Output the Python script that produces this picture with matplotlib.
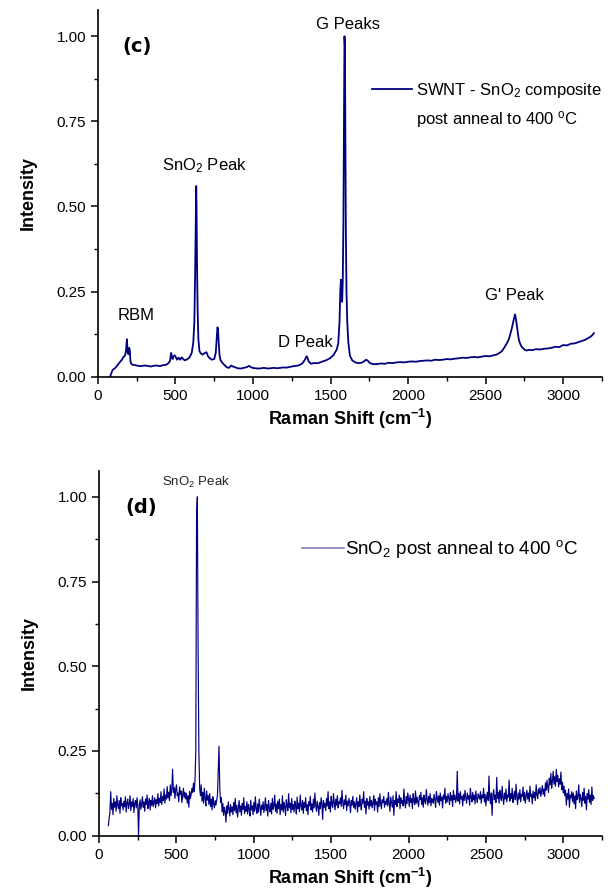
import numpy as np
import matplotlib
matplotlib.use("Agg")
import matplotlib.pyplot as plt
from matplotlib.ticker import MultipleLocator, FormatStrFormatter
from matplotlib.lines import Line2D

plt.rcParams['font.family'] = ['Liberation Sans', 'DejaVu Sans']
plt.rcParams['mathtext.default'] = 'regular'

# panel (c): SWNT - SnO2 composite, (Raman shift, intensity)
c_points = [
    (78, 0.0), (85, 0.008), (95, 0.02), (110, 0.025), (125, 0.033), (140, 0.042),
    (155, 0.05), (165, 0.058), (175, 0.062), (182, 0.08), (187, 0.11), (192, 0.07),
    (197, 0.066), (202, 0.085), (206, 0.078), (210, 0.045), (215, 0.038), (225, 0.035),
    (240, 0.034), (260, 0.032), (280, 0.031), (300, 0.033), (320, 0.032), (340, 0.030),
    (360, 0.032), (380, 0.033), (400, 0.031), (420, 0.034), (440, 0.035), (455, 0.040),
    (465, 0.046), (472, 0.070), (478, 0.058), (482, 0.052), (488, 0.060), (495, 0.063),
    (502, 0.058), (510, 0.050), (520, 0.056), (530, 0.050), (540, 0.057), (550, 0.052),
    (560, 0.048), (575, 0.051), (590, 0.056), (605, 0.070), (615, 0.10), (622, 0.16),
    (627, 0.30), (631, 0.45), (634, 0.56), (636, 0.50), (639, 0.34), (643, 0.20),
    (648, 0.11), (655, 0.075), (665, 0.068), (675, 0.065), (690, 0.070), (700, 0.072),
    (710, 0.060), (720, 0.055), (735, 0.050), (750, 0.052), (760, 0.070), (766, 0.11),
    (771, 0.145), (775, 0.138), (779, 0.10), (784, 0.065), (790, 0.050), (800, 0.042),
    (815, 0.035), (830, 0.028), (845, 0.026), (860, 0.033), (870, 0.030), (885, 0.028),
    (900, 0.025), (920, 0.024), (940, 0.026), (960, 0.028), (975, 0.032), (990, 0.027),
    (1010, 0.025), (1040, 0.024), (1070, 0.026), (1100, 0.024), (1130, 0.026), (1160, 0.025),
    (1190, 0.027), (1220, 0.027), (1250, 0.030), (1280, 0.032), (1300, 0.034), (1320, 0.040),
    (1335, 0.050), (1346, 0.060), (1352, 0.055), (1360, 0.044), (1375, 0.038), (1390, 0.040),
    (1420, 0.040), (1450, 0.045), (1475, 0.049), (1496, 0.054), (1520, 0.064), (1540, 0.080),
    (1550, 0.098), (1558, 0.16), (1563, 0.25), (1567, 0.285), (1571, 0.24), (1575, 0.22),
    (1579, 0.28), (1583, 0.45), (1587, 0.75), (1590, 1.00), (1593, 0.97), (1596, 0.66),
    (1599, 0.42), (1603, 0.25), (1608, 0.16), (1615, 0.10), (1625, 0.062), (1640, 0.048),
    (1660, 0.042), (1680, 0.040), (1700, 0.041), (1715, 0.045), (1730, 0.050), (1740, 0.047),
    (1755, 0.040), (1775, 0.037), (1800, 0.037), (1825, 0.039), (1850, 0.038), (1875, 0.041),
    (1900, 0.040), (1925, 0.042), (1950, 0.043), (1975, 0.042), (2000, 0.044), (2025, 0.045),
    (2050, 0.044), (2075, 0.046), (2100, 0.047), (2125, 0.048), (2150, 0.047), (2175, 0.050),
    (2200, 0.049), (2225, 0.050), (2250, 0.052), (2275, 0.051), (2300, 0.053), (2325, 0.054),
    (2350, 0.056), (2375, 0.055), (2400, 0.057), (2425, 0.058), (2450, 0.057), (2475, 0.059),
    (2500, 0.061), (2525, 0.060), (2550, 0.063), (2570, 0.065), (2590, 0.070), (2605, 0.075),
    (2620, 0.085), (2635, 0.097), (2645, 0.105), (2655, 0.118), (2665, 0.135), (2673, 0.150),
    (2680, 0.165), (2686, 0.176), (2689, 0.183), (2693, 0.176), (2697, 0.165), (2702, 0.148),
    (2707, 0.130), (2713, 0.112), (2720, 0.100), (2732, 0.088), (2750, 0.080), (2764, 0.077),
    (2780, 0.079), (2800, 0.078), (2825, 0.081), (2850, 0.080), (2875, 0.082), (2900, 0.083),
    (2925, 0.085), (2950, 0.088), (2975, 0.087), (3000, 0.093), (3025, 0.092), (3050, 0.097),
    (3075, 0.098), (3100, 0.102), (3120, 0.105), (3140, 0.108), (3160, 0.113), (3175, 0.117),
    (3188, 0.122), (3198, 0.128),
]
c_shift = [p[0] for p in c_points]
c_intensity = [p[1] for p in c_points]

# panel (d): SnO2 only, sampled every 5 cm-1 from 60 to 3200 (values x 1000)
d_start, d_step = 60, 5
d_intensity = [
    30, 52, 68, 130, 78, 96, 62, 110, 84, 100, 72, 118, 90, 80, 104, 66, 112, 88, 95, 76,
    102, 85, 115, 70, 96, 108, 80, 92, 118, 74, 100, 86, 110, 68, 95, 104, 82, 112, 90, 0,
    88, 106, 78, 95, 115, 84, 100, 72, 108, 92, 120, 80, 98, 110, 76, 104, 90, 118, 86, 100,
    112, 82, 106, 95, 124, 88, 110, 98, 130, 92, 115, 104, 138, 96, 120, 108, 145, 112, 128, 104,
    150, 118, 138, 196, 128, 142, 110, 135, 150, 118, 126, 100, 144, 122, 132, 98, 118, 140, 112, 128,
    108, 125, 96, 118, 84, 130, 110, 122, 140, 128, 155, 130, 165, 250, 950, 1000, 540, 245, 140, 118,
    150, 102, 128, 96, 140, 110, 88, 132, 105, 118, 92, 124, 86, 108, 76, 115, 95, 82, 104, 90,
    105, 120, 195, 264, 140, 98, 112, 70, 95, 60, 84, 72, 40, 88, 66, 100, 78, 58, 92, 70,
    85, 62, 98, 74, 110, 68, 90, 55, 82, 104, 70, 88, 60, 95, 78, 112, 66, 86, 72, 100,
    64, 92, 80, 58, 105, 76, 88, 62, 98, 72, 115, 80, 66, 94, 70, 108, 84, 60, 90, 78,
    100, 68, 86, 112, 74, 92, 58, 104, 82, 70, 96, 64, 110, 78, 88, 120, 72, 94, 66, 102,
    80, 108, 62, 92, 76, 118, 70, 98, 84, 60, 106, 88, 74, 124, 82, 96, 68, 110, 78, 92,
    70, 102, 86, 64, 114, 80, 96, 72, 120, 88, 76, 104, 66, 98, 84, 112, 74, 92, 62, 100,
    88, 116, 76, 94, 70, 108, 82, 126, 90, 72, 102, 86, 60, 98, 80, 112, 94, 48, 104, 84,
    96, 74, 110, 88, 130, 80, 100, 70, 116, 92, 84, 124, 96, 76, 108, 90, 118, 82, 100, 94,
    112, 86, 134, 98, 80, 106, 92, 120, 74, 102, 88, 110, 96, 68, 104, 90, 116, 84, 100, 78,
    94, 112, 70, 100, 86, 120, 92, 76, 108, 96, 130, 84, 102, 64, 110, 90, 100, 78, 116, 88,
    104, 82, 96, 118, 74, 108, 92, 100, 70, 112, 86, 124, 94, 80, 106, 98, 116, 84, 102, 92,
    110, 88, 128, 96, 72, 114, 100, 84, 118, 60, 104, 92, 130, 86, 108, 98, 120, 80, 112, 96,
    104, 88, 138, 100, 82, 116, 94, 126, 108, 86, 120, 98, 110, 80, 124, 102, 92, 132, 96, 114,
    100, 86, 118, 106, 128, 92, 112, 84, 120, 102, 94, 136, 108, 90, 116, 98, 124, 88, 110, 104,
    96, 122, 106, 84, 130, 112, 98, 118, 90, 126, 104, 114, 82, 120, 108, 140, 96, 116, 100, 124,
    110, 92, 128, 104, 118, 86, 134, 106, 120, 98, 112, 190, 102, 124, 94, 130, 108, 116, 88, 122,
    104, 134, 112, 96, 126, 108, 118, 90, 140, 114, 100, 128, 106, 120, 94, 132, 110, 98, 124, 116,
    108, 130, 96, 120, 112, 140, 100, 122, 88, 116, 128, 104, 176, 112, 94, 126, 60, 118, 136, 106,
    120, 98, 172, 110, 128, 96, 134, 116, 104, 146, 112, 92, 126, 108, 138, 100, 120, 114, 164, 102,
    124, 110, 140, 98, 118, 130, 106, 152, 114, 92, 126, 108, 136, 100, 122, 116, 144, 104, 128, 96,
    118, 134, 108, 126, 100, 146, 116, 122, 94, 132, 112, 128, 104, 150, 120, 110, 138, 124, 142, 116,
    130, 148, 122, 138, 116, 156, 134, 164, 142, 128, 170, 150, 184, 140, 162, 190, 152, 174, 146, 196,
    160, 178, 144, 168, 152, 188, 136, 158, 126, 146, 118, 134, 90, 124, 108, 138, 84, 120, 112, 130,
    100, 126, 94, 118, 80, 132, 106, 114, 150, 98, 122, 110, 86, 128, 104, 140, 96, 116, 76, 124,
    108, 136, 98, 120, 92, 144, 104, 118, 110,
]
d_shift = d_start + d_step * np.arange(len(d_intensity))
d_values = np.array(d_intensity) / 1000.0

navy = '#000080'

fig = plt.figure(figsize=(6.08, 8.94), dpi=100)
ax_c = fig.add_axes([0.161, 0.5786, 0.829, 0.4102])
ax_d = fig.add_axes([0.163, 0.0652, 0.827, 0.4083])


def style_axis(ax):
    ax.set_xlim(0, 3250)
    ax.set_ylim(0, 1.077)
    ax.spines['top'].set_visible(False)
    ax.spines['right'].set_visible(False)
    for s in ('left', 'bottom'):
        ax.spines[s].set_linewidth(1.2)
    ax.xaxis.set_major_locator(MultipleLocator(500))
    ax.xaxis.set_minor_locator(MultipleLocator(250))
    ax.yaxis.set_major_locator(MultipleLocator(0.25))
    ax.yaxis.set_minor_locator(MultipleLocator(0.125))
    ax.yaxis.set_major_formatter(FormatStrFormatter('%.2f'))
    ax.tick_params(which='major', direction='out', length=5, width=1.1, labelsize=11)
    ax.tick_params(which='minor', direction='out', length=3, width=1.0)
    ax.set_xlabel('Raman Shift (cm$^{-1}$)', fontsize=13, fontweight='bold', labelpad=3)
    ax.set_ylabel('Intensity', fontsize=13, fontweight='bold', labelpad=14)


# ---- panel (c)
line_c, = ax_c.plot(c_shift, c_intensity, color=navy, lw=1.3)
style_axis(ax_c)
ax_c.text(160, 0.97, '(c)', family='DejaVu Sans', fontweight='bold', fontsize=14,
          va='center', ha='left')
ax_c.text(1612, 1.034, 'G Peaks', fontsize=12, ha='center', va='center')
ax_c.text(688, 0.62, 'SnO$_2$ Peak', fontsize=12, ha='center', va='center')
ax_c.text(245, 0.181, 'RBM', fontsize=12, ha='center', va='center')
ax_c.text(1340, 0.101, 'D Peak', fontsize=12, ha='center', va='center')
ax_c.text(2687, 0.238, "G' Peak", fontsize=12, ha='center', va='center')
ax_c.legend([line_c], ['SWNT - SnO$_2$ composite'], loc='center left',
            bbox_to_anchor=(0.544, 0.780), frameon=False, fontsize=12,
            borderpad=0, borderaxespad=0, handlelength=2.4, handletextpad=0.25)
ax_c.text(2050, 0.755, 'post anneal to 400 $^o$C', fontsize=12, ha='left', va='center')

# ---- panel (d)
ax_d.plot(d_shift, d_values, color=navy, lw=0.85)
style_axis(ax_d)
ax_d.text(172, 0.967, '(d)', family='DejaVu Sans', fontweight='bold', fontsize=14,
          va='center', ha='left')
ax_d.text(628, 1.042, 'SnO$_2$ Peak', fontsize=9.5, ha='center', va='center', color='#222222')
handle_d = Line2D([], [], color='#8080c0', lw=1.2)
ax_d.legend([handle_d], ['SnO$_2$ post anneal to 400 $^o$C'], loc='center left',
            bbox_to_anchor=(0.403, 0.785), frameon=False, fontsize=13.5,
            borderpad=0, borderaxespad=0, handlelength=2.25, handletextpad=0.05)

fig.savefig('out.png', dpi=100)
